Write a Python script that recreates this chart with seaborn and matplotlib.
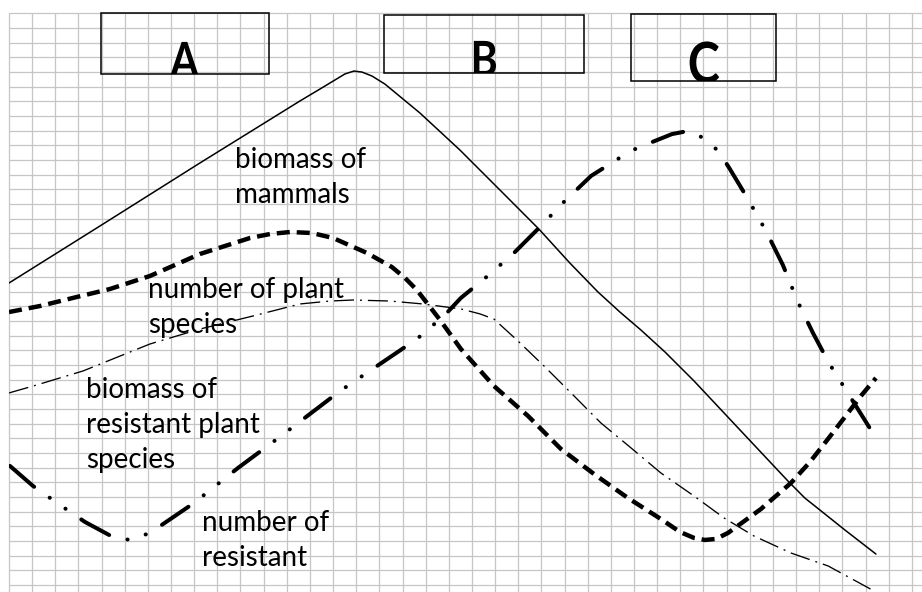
import numpy as np
import seaborn as sns
import matplotlib.pyplot as plt
from matplotlib.patches import Rectangle, PathPatch
from matplotlib.textpath import TextPath
from matplotlib.font_manager import FontProperties
from matplotlib.transforms import Affine2D, ScaledTranslation

# curve data, in grid cells (x to the right, y upwards)
mammals_x = [0.00, 3.93, 8.25, 12.57, 13.43, 14.08, 14.51, 14.90, 15.25, 15.68, 16.24, 17.75, 19.48, 21.21,
             22.89, 24.23, 25.44, 26.39, 27.30, 28.34, 29.59, 31.58, 33.65, 34.38, 35.08, 36.11, 37.45]
mammals_y = [20.60, 24.49, 28.79, 33.02, 33.83, 34.45, 34.86, 35.06, 34.99, 34.72, 34.17, 32.20, 29.67, 26.94,
             24.28, 21.96, 19.99, 18.62, 17.39, 15.89, 13.92, 10.57, 7.09, 5.93, 5.05, 3.75, 2.11]

plant_species_x = [0.00, 1.34, 2.94, 4.36, 6.09, 8.25, 10.41, 11.27, 12.14, 13.09, 14.00, 15.46, 16.54, 17.11,
                   17.62, 18.62, 19.52, 20.95, 22.42, 23.84, 25.27, 26.74, 28.16, 28.98, 29.59, 30.06, 30.54,
                   31.06, 32.48, 33.78, 34.60, 35.38, 36.11, 36.80, 37.45]
plant_species_y = [18.62, 19.03, 19.65, 20.19, 21.08, 22.58, 23.67, 23.94, 24.08, 24.01, 23.67, 22.65, 21.69,
                   20.94, 20.12, 18.08, 16.10, 13.57, 11.53, 9.28, 7.57, 5.93, 4.50, 3.62, 3.21, 3.07, 3.14,
                   3.55, 5.18, 6.96, 8.39, 9.96, 11.46, 12.89, 14.12]

resistant_biomass_x = [0.00, 1.04, 3.20, 6.09, 8.25, 10.54, 12.57, 13.87, 14.86, 16.46, 17.88, 19.52, 20.35,
                       20.95, 21.99, 23.11, 24.28, 25.57, 26.87, 28.16, 29.59, 30.89, 32.18, 33.78, 35.38, 37.37]
resistant_biomass_y = [13.10, 13.57, 14.60, 16.44, 17.46, 18.35, 19.17, 19.37, 19.44, 19.37, 19.17, 18.83, 18.49,
                       18.14, 16.64, 14.94, 13.10, 11.05, 9.35, 7.64, 6.07, 4.57, 3.34, 2.18, 1.30, -0.41]

resistant_number_x = [0.04, 1.04, 2.20, 3.28, 4.49, 5.23, 6.09, 7.99, 9.89, 11.75, 14.30, 17.62, 18.83, 19.52,
                      20.52, 21.77, 22.89, 23.97, 25.14, 26.44, 27.13, 27.90, 28.64, 29.33, 30.11, 30.67, 31.14,
                      31.92, 32.70, 33.43, 34.08, 34.73, 35.42, 36.29, 37.45]
resistant_number_y = [8.12, 6.75, 5.46, 4.30, 3.27, 3.07, 3.55, 5.59, 7.98, 10.16, 13.23, 16.78, 18.42, 19.58,
                      20.87, 22.58, 24.35, 26.13, 27.90, 29.20, 29.81, 30.29, 30.76, 30.97, 30.42, 29.54, 28.38,
                      26.33, 24.15, 21.83, 19.30, 17.19, 15.14, 12.96, 10.03]

box_letters = ['A', 'B', 'C']
labels = [
    ['biomass of', 'mammals'],
    ['number of plant', 'species'],
    ['biomass of', 'resistant plant', 'species'],
    ['number of', 'resistant'],
]

sns.set_theme(style='white')
plt.rcParams['font.family'] = ['Lato', 'DejaVu Sans']
plt.rcParams['lines.scale_dashes'] = False

fig = plt.figure(figsize=(9.22, 5.92), dpi=100)
ax = fig.add_axes([9 / 922, 0, 913 / 922, 579 / 592])
ax.set_xlim(0, 39.44)
ax.set_ylim(-0.48, 39.02)

# squared paper
ax.set_xticks(np.arange(0, 40))
ax.set_yticks(np.arange(0, 40))
ax.tick_params(length=0, labelbottom=False, labelleft=False)
ax.grid(True, color='#c6c6c6', lw=0.9)
for gl in ax.get_xgridlines() + ax.get_ygridlines():
    gl.set_clip_on(False)
for s in ax.spines.values():
    s.set_visible(False)

# curves
sns.lineplot(x=mammals_x, y=mammals_y, sort=False, estimator=None, color='black', lw=1.1, ax=ax)

sns.lineplot(x=plant_species_x, y=plant_species_y, sort=False, estimator=None, color='black', lw=3.2, ax=ax)
ax.lines[-1].set_dashes([9.4, 5.0])

sns.lineplot(x=resistant_biomass_x, y=resistant_biomass_y, sort=False, estimator=None, color='black', lw=0.95, ax=ax)
ax.lines[-1].set_dashes([14.4, 4.3, 1.4, 4.3])

sns.lineplot(x=resistant_number_x, y=resistant_number_y, sort=False, estimator=None, color='black', lw=2.9, ax=ax)
ax.lines[-1].set_dashes([23, 13.7, 0.1, 13.7, 0.1, 13.7])
ax.lines[-1].set_dash_capstyle('round')

# boxes with big letters, cut off by the lower edge of each box
# (box x, box y, box w, box h, letter x, letter baseline, letter size)
box_specs = [(3.97, 34.86, 7.26, 4.16, 7.58, 34.65, 35),
             (16.20, 34.92, 8.64, 3.96, 20.56, 34.72, 35),
             (26.87, 34.38, 6.26, 4.57, 30.04, 34.24, 41)]
fp = FontProperties(family='Lato', weight='bold')
for letter, (bx, by, bw, bh, tx, ty, size) in zip(box_letters, box_specs):
    rect = Rectangle((bx, by), bw, bh, fill=False, ec='black', lw=1.1, clip_on=False)
    ax.add_patch(rect)
    tp = TextPath((0, 0), letter, size=size, prop=fp)
    ext = tp.get_extents()
    trans = (Affine2D().translate(-(ext.x0 + ext.x1) / 2, 0).scale(0.85 / 72, 1 / 72)
             + fig.dpi_scale_trans + ScaledTranslation(tx, ty, ax.transData))
    glyph = PathPatch(tp, transform=trans, fc='black', ec='none', lw=0)
    ax.add_patch(glyph)
    # add_patch resets the clip to the axes, so set it afterwards
    glyph.set_clip_on(True)
    glyph.set_clip_path(rect)

# curve labels
label_pos = [(9.76, 28.44), (6.00, 19.58), (3.33, 12.76), (8.34, 3.68)]
for lines, (lx, ly) in zip(labels, label_pos):
    for i, line in enumerate(lines):
        ax.text(lx, ly - i * 2.4, line, ha='left', va='baseline', fontsize=20, color='black')

fig.savefig('out.png', dpi=100)
